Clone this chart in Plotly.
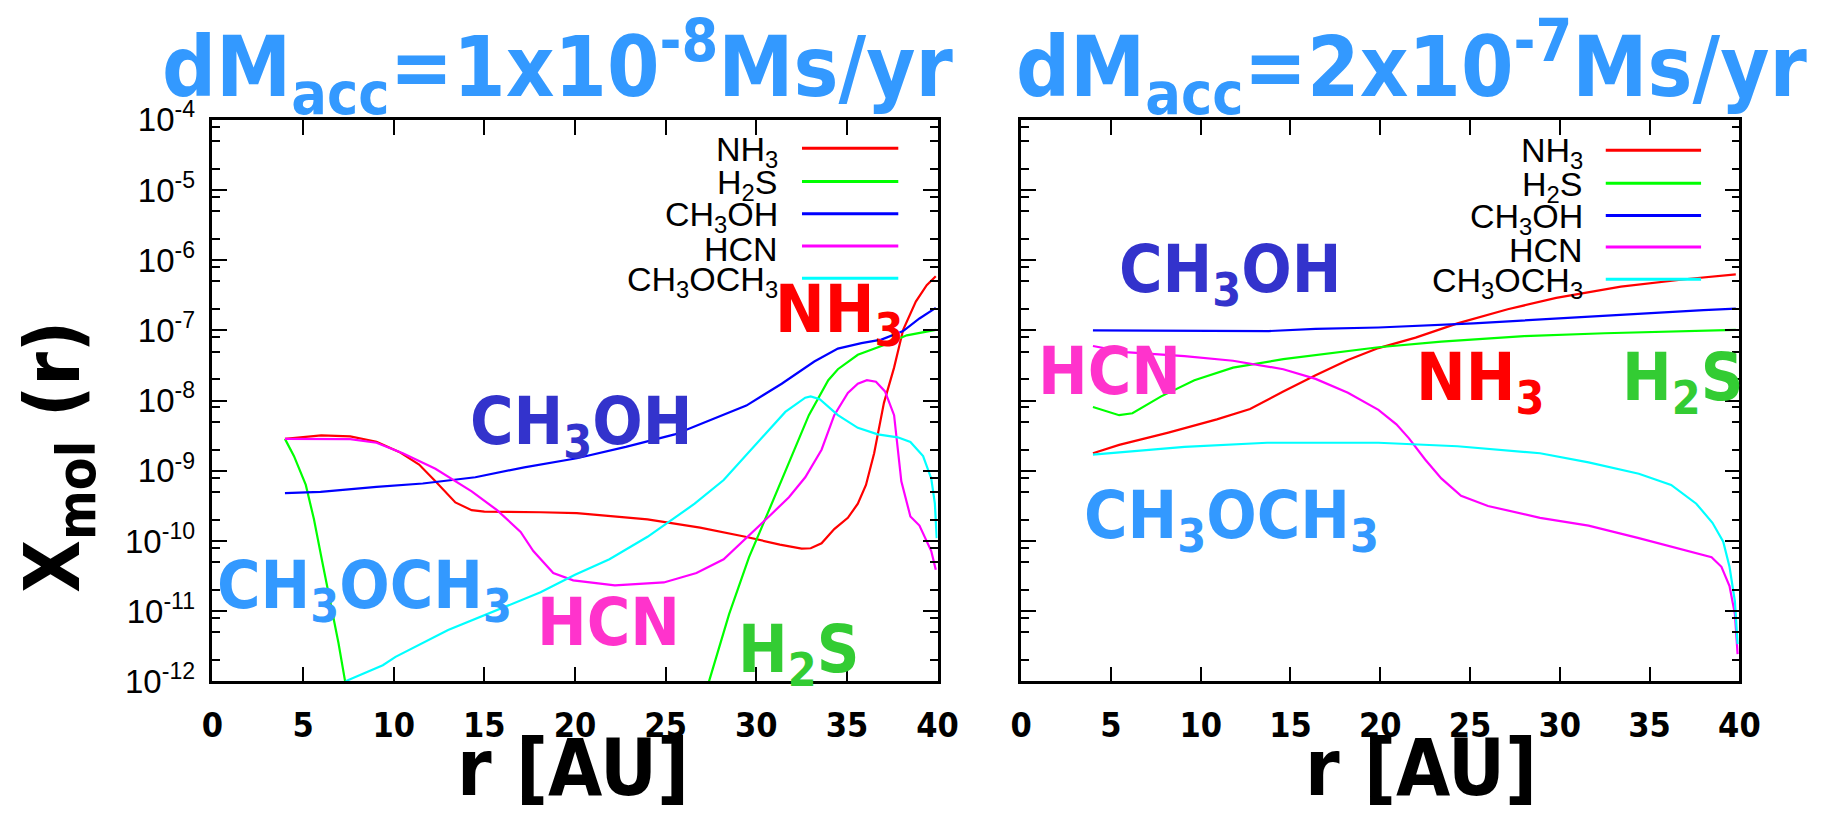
import plotly.graph_objects as go

W, H = 1839, 820

# ---------------- data: left panel (dM_acc = 1e-8 Ms/yr) ----------------
r_nh3_a = [4.0, 6.0, 7.6, 9.05, 10.3, 11.4, 12.3, 13.4, 14.3, 15.0, 18.1, 20.1, 24.0, 26.9, 29.4,
           31.3, 32.5, 33.0, 33.6, 34.3, 35.05, 35.6, 36.05, 36.5, 37.04, 37.6, 38.1, 38.8, 39.4, 39.9]
x_nh3_a = [2.85e-9, 3.2e-9, 3.1e-9, 2.6e-9, 1.86e-9, 1.23e-9, 7.1e-10, 3.55e-10, 2.75e-10, 2.63e-10,
           2.57e-10, 2.5e-10, 2.04e-10, 1.55e-10, 1.15e-10, 8.9e-11, 7.8e-11, 7.9e-11, 9.3e-11, 1.48e-10,
           2.14e-10, 3.4e-10, 6.3e-10, 1.78e-9, 9.3e-9, 2.95e-8, 1.02e-7, 2.57e-7, 4.4e-7, 5.9e-7]

r_h2s_a = [4.0, 4.5, 5.15, 5.6, 6.05, 6.5, 6.95, 7.3, 7.6, None, 27.1, 27.4, 28.5, 29.6, 30.7, 31.8,
           32.9, 33.97, 34.5, 35.6, 36.9, 38.3, 39.2, 39.9]
x_h2s_a = [2.85e-9, 1.62e-9, 6.3e-10, 2.04e-10, 5.2e-11, 1.38e-11, 3.55e-12, 1.07e-12, 4e-13, None,
           5e-13, 1.02e-12, 9.1e-12, 5.9e-11, 2.75e-10, 1.32e-9, 6.2e-9, 1.95e-8, 2.8e-8, 4.5e-8,
           6.0e-8, 8.5e-8, 9.3e-8, 1.02e-7]

r_ch3oh_a = [4.0, 5.96, 9.05, 11.6, 14.5, 17.2, 20.1, 22.8, 25.5, 27.6, 29.45, 31.4, 33.2, 34.5,
             35.8, 36.9, 38.1, 39.0, 39.9]
x_ch3oh_a = [4.8e-10, 5.0e-10, 5.9e-10, 6.6e-10, 8.1e-10, 1.12e-9, 1.51e-9, 2.19e-9, 3.3e-9, 5.4e-9,
             8.5e-9, 1.74e-8, 3.6e-8, 5.5e-8, 6.6e-8, 7.4e-8, 9.8e-8, 1.48e-7, 2.09e-7]

r_hcn_a = [4.0, 7.6, 9.05, 10.5, 12.3, 14.3, 15.7, 17.0, 17.7, 18.8, 19.9, 22.2, 24.9, 26.7, 28.2,
           29.45, 30.7, 31.8, 32.7, 33.6, 34.3, 35.05, 35.6, 36.1, 36.6, 37.1, 37.6, 38.0, 38.5,
           39.0, 39.65, 39.9]
x_hcn_a = [2.85e-9, 2.82e-9, 2.51e-9, 1.78e-9, 1.07e-9, 5.1e-10, 2.75e-10, 1.35e-10, 7.2e-11, 3.5e-11,
           2.75e-11, 2.34e-11, 2.57e-11, 3.5e-11, 5.5e-11, 1.10e-10, 2.24e-10, 4.2e-10, 8.1e-10,
           2.0e-9, 6.2e-9, 1.29e-8, 1.74e-8, 1.95e-8, 1.86e-8, 1.35e-8, 6.2e-9, 7.1e-10, 2.24e-10,
           1.66e-10, 7.2e-11, 3.9e-11]

r_dme_a = [7.2, 7.4, 9.4, 10.1, 13.0, 15.5, 18.1, 20.0, 21.9, 24.0, 26.6, 28.2, 29.8, 31.6, 32.7,
           33.0, 33.5, 34.5, 35.6, 36.7, 37.8, 38.5, 39.2, 39.65, 39.85, 39.95]
x_dme_a = [6e-13, 1.02e-12, 1.7e-12, 2.24e-12, 5.4e-12, 1.0e-11, 1.86e-11, 3.3e-11, 5.5e-11, 1.15e-10,
           3.4e-10, 7.4e-10, 2.09e-9, 6.9e-9, 1.10e-8, 1.15e-8, 1.05e-8, 6.2e-9, 4.1e-9, 3.3e-9,
           3.0e-9, 2.57e-9, 1.62e-9, 7.8e-10, 3.4e-10, 1.10e-10]

# ---------------- data: right panel (dM_acc = 2e-7 Ms/yr) ----------------
r_nh3_b = [4.0, 5.46, 8.2, 10.9, 12.75, 14.6, 16.4, 18.2, 19.9, 21.97, 24.3, 27.1, 29.8, 33.4, 37.1, 39.8]
x_nh3_b = [1.78e-9, 2.34e-9, 3.5e-9, 5.4e-9, 7.6e-9, 1.35e-8, 2.29e-8, 3.8e-8, 5.6e-8, 7.9e-8,
           1.26e-7, 2.0e-7, 2.9e-7, 4.2e-7, 5.4e-7, 6.3e-7]

r_h2s_b = [4.0, 5.46, 6.2, 7.8, 9.65, 11.8, 14.6, 17.3, 19.9, 23.4, 28.0, 32.5, 39.8]
x_h2s_b = [8.1e-9, 6.2e-9, 6.6e-9, 1.15e-8, 1.95e-8, 2.95e-8, 3.9e-8, 4.8e-8, 5.75e-8, 6.9e-8,
           8.3e-8, 9.1e-8, 1.02e-7]

r_ch3oh_b = [4.0, 9.1, 13.8, 16.4, 19.9, 25.2, 29.8, 34.4, 38.0, 39.8]
x_ch3oh_b = [1.0e-7, 9.8e-8, 9.8e-8, 1.05e-7, 1.10e-7, 1.26e-7, 1.48e-7, 1.74e-7, 1.95e-7, 2.04e-7]

r_hcn_b = [4.0, 5.8, 9.1, 11.8, 14.6, 16.4, 18.2, 19.9, 20.9, 21.6, 22.5, 23.4, 24.5, 26.0, 28.9,
           31.6, 34.4, 36.7, 38.45, 39.0, 39.45, 39.75, 39.9]
x_hcn_b = [6.0e-8, 4.9e-8, 4.3e-8, 3.7e-8, 2.8e-8, 2.04e-8, 1.29e-8, 7.4e-9, 4.6e-9, 2.9e-9, 1.45e-9,
           7.8e-10, 4.4e-10, 3.16e-10, 2.14e-10, 1.66e-10, 1.10e-10, 7.8e-11, 5.9e-11, 4.3e-11,
           2.29e-11, 9.1e-12, 2.45e-12]

r_dme_b = [4.0, 6.0, 9.1, 13.7, 19.9, 24.3, 28.9, 31.6, 34.4, 36.2, 37.6, 38.5, 39.1, 39.45, 39.75, 39.9]
x_dme_b = [1.70e-9, 1.86e-9, 2.19e-9, 2.51e-9, 2.51e-9, 2.24e-9, 1.78e-9, 1.32e-9, 9.1e-10, 6.3e-10,
           3.4e-10, 1.82e-10, 9.8e-11, 4.3e-11, 1.38e-11, 3.4e-12]

species = ["NH<sub>3</sub>", "H<sub>2</sub>S", "CH<sub>3</sub>OH", "HCN", "CH<sub>3</sub>OCH<sub>3</sub>"]
line_colors = ["#ff0000", "#00ff00", "#0000ff", "#ff00ff", "#00ffff"]

x_ticks = [0, 5, 10, 15, 20, 25, 30, 35, 40]
y_tickvals = [1e-12, 1e-11, 1e-10, 1e-9, 1e-8, 1e-7, 1e-6, 1e-5, 1e-4]
y_ticktext = ["10<sup>-12</sup>", "10<sup>-11</sup>", "10<sup>-10</sup>", "10<sup>-9</sup>",
              "10<sup>-8</sup>", "10<sup>-7</sup>", "10<sup>-6</sup>", "10<sup>-5</sup>", "10<sup>-4</sup>"]
y_minor = [m * d for d in [1e-12, 1e-11, 1e-10, 1e-9, 1e-8, 1e-7, 1e-6, 1e-5] for m in (2, 5, 8)]

titles = ["dM<sub>acc</sub>=1x10<sup>-8</sup>Ms/yr", "dM<sub>acc</sub>=2x10<sup>-7</sup>Ms/yr"]

# ---------------- figure ----------------
def px(x):
    return x / W


def py(y):
    return 1 - y / H


fig = go.Figure()

left = [(r_nh3_a, x_nh3_a), (r_h2s_a, x_h2s_a), (r_ch3oh_a, x_ch3oh_a), (r_hcn_a, x_hcn_a), (r_dme_a, x_dme_a)]
right = [(r_nh3_b, x_nh3_b), (r_h2s_b, x_h2s_b), (r_ch3oh_b, x_ch3oh_b), (r_hcn_b, x_hcn_b), (r_dme_b, x_dme_b)]

for (xs, ys), c, nm in zip(left, line_colors, species):
    fig.add_trace(go.Scatter(x=xs, y=ys, mode="lines", line=dict(color=c, width=2.2),
                             name=nm, xaxis="x", yaxis="y", connectgaps=False, showlegend=False))
for (xs, ys), c, nm in zip(right, line_colors, species):
    fig.add_trace(go.Scatter(x=xs, y=ys, mode="lines", line=dict(color=c, width=2.2),
                             name=nm, xaxis="x2", yaxis="y2", connectgaps=False, showlegend=False))

dom_y = [py(694), py(102)]
dom_x1 = [px(205), px(943)]
dom_x2 = [px(1028), px(1759)]

cond = "DejaVu Sans Condensed, Liberation Sans Narrow, Arial Narrow, sans-serif"
narrow = "Liberation Sans Narrow, DejaVu Sans Condensed, Arial Narrow, sans-serif"

tick_font_x = dict(family=narrow, size=34, color="black", weight="bold")
tick_font_y = dict(family="Liberation Sans, Arial, sans-serif", size=33, color="black")

xcommon = dict(range=[0, 40], tickvals=x_ticks, ticks="inside", ticklen=15, tickwidth=2,
               tickcolor="black", showline=True, linecolor="black", linewidth=2.5, mirror="ticks",
               showgrid=False, zeroline=False, tickfont=tick_font_x, ticklabelstandoff=12)
ycommon = dict(type="log", range=[-12, -4], tickvals=y_tickvals, ticks="inside", ticklen=15,
               tickwidth=2, tickcolor="black", showline=True, linecolor="black", linewidth=2.5,
               mirror="ticks", showgrid=False, zeroline=False,
               minor=dict(tickvals=y_minor, ticks="inside", ticklen=8, tickwidth=2, tickcolor="black",
                          showgrid=False))

fig.update_layout(
    width=W, height=H, autosize=False,
    margin=dict(l=0, r=0, t=0, b=0),
    paper_bgcolor="white", plot_bgcolor="white",
    showlegend=False,
    xaxis=dict(domain=dom_x1, anchor="y", **xcommon),
    xaxis2=dict(domain=dom_x2, anchor="y2", **xcommon),
    yaxis=dict(domain=dom_y, anchor="x", ticktext=y_ticktext, tickfont=tick_font_y,
               ticklabelstandoff=8, **ycommon),
    yaxis2=dict(domain=dom_y, anchor="x2", showticklabels=False, **ycommon),
)

ann = []
shapes = []

# panel titles
for t, cx in zip(titles, [556, 1425]):
    ann.append(dict(text=t, x=px(cx), y=py(46), xref="paper", yref="paper", xanchor="center",
                    yanchor="middle", showarrow=False,
                    font=dict(family=cond, size=84, color="#3399ff", weight="bold")))

# axis titles
ann.append(dict(text="X<sub>mol</sub> (r)", x=px(47), y=py(457), xref="paper", yref="paper",
                xanchor="center", yanchor="middle", textangle=-90, showarrow=False,
                font=dict(family=cond, size=76, color="black", weight="bold")))
for cx in [572, 1435]:
    ann.append(dict(text="r [AU]", x=px(cx), y=py(785), xref="paper", yref="paper",
                    xanchor="center", yanchor="middle", showarrow=False,
                    font=dict(family=narrow, size=78, color="black", weight="bold")))

# legends (text right, line at right)
leg_rows_a = [132, 167, 201, 235, 269]
leg_rows_b = [134, 169, 203, 236, 270]
for rows, text_right, lx0, lx1 in [(leg_rows_a, 783, 805, 903), (leg_rows_b, 1602, 1623, 1720)]:
    for yy, nm, c in zip(rows, species, line_colors):
        ann.append(dict(text=nm, x=px(text_right), y=py(yy + 3), xref="paper", yref="paper",
                        xanchor="right", yanchor="middle", showarrow=False,
                        font=dict(family="Liberation Sans, Arial, sans-serif", size=34, color="black")))
        shapes.append(dict(type="line", xref="paper", yref="paper", x0=px(lx0), x1=px(lx1),
                           y0=py(yy), y1=py(yy), line=dict(color=c, width=3)))

# in-plot species labels: (text, left x, cap-middle y, color)
labels = [
    ("NH<sub>3</sub>", 775, 297, "#ff0000"),
    ("CH<sub>3</sub>OH", 465, 415, "#3333cc"),
    ("CH<sub>3</sub>OCH<sub>3</sub>", 208, 588, "#3399ff"),
    ("HCN", 533, 632, "#ff33cc"),
    ("H<sub>2</sub>S", 738, 655, "#33cc33"),
    ("CH<sub>3</sub>OH", 1126, 255, "#3333cc"),
    ("HCN", 1043, 367, "#ff33cc"),
    ("NH<sub>3</sub>", 1428, 368, "#ff0000"),
    ("H<sub>2</sub>S", 1637, 368, "#33cc33"),
    ("CH<sub>3</sub>OCH<sub>3</sub>", 1090, 514, "#3399ff"),
]
for t, lx, cy, c in labels:
    has_sub = "<sub>" in t
    ann.append(dict(text=t, x=px(lx), y=py(cy + (10 if has_sub else 0)), xref="paper", yref="paper",
                    xanchor="left", yanchor="middle", showarrow=False,
                    font=dict(family=cond, size=66, color=c, weight="bold")))

fig.update_layout(annotations=ann, shapes=shapes)

fig.write_html("out.html")
